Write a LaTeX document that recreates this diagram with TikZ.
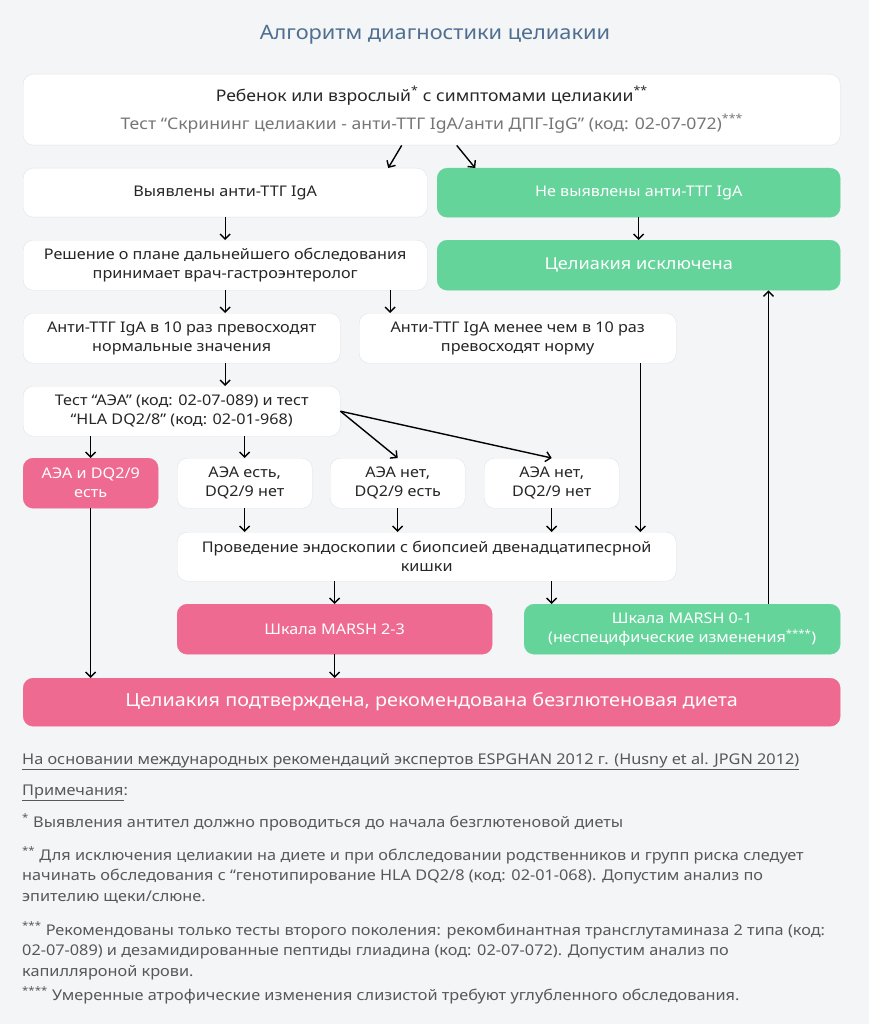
\documentclass[tikz,border=0pt]{standalone}
\usepackage{fontspec}
\setmainfont{Noto Sans}[FakeStretch=1.1]
\usetikzlibrary{arrows.meta}

\definecolor{bgcol}{HTML}{F4F5F7}
\definecolor{boxline}{HTML}{E1E3E7}
\definecolor{greenbox}{HTML}{64D49B}
\definecolor{pinkbox}{HTML}{EE6A90}
\definecolor{titlecol}{HTML}{4F6F90}
\definecolor{subtext}{HTML}{767676}
\definecolor{notetext}{HTML}{585858}

\begin{document}
\begin{tikzpicture}[
    x=1pt, y=-1pt,
    box/.style={
        rectangle,
        rounded corners=10pt,
        draw=boxline,
        fill=white,
        anchor=north west,
        inner sep=0pt,
        align=center,
        text=black!85,
        font=\fontsize{14.7}{19}\selectfont
    },
    okbox/.style={box, draw=greenbox, fill=greenbox, text=white},
    badbox/.style={box, draw=pinkbox, fill=pinkbox, text=white},
    arrow/.style={
        -{Straight Barb[length=5pt,width=10pt]},
        line width=1.4pt
    },
    note/.style={
        anchor=base west,
        inner sep=0pt,
        align=left,
        text=notetext,
        font=\fontsize{14.8}{20.5}\selectfont
    }
]

% fondo
\fill[bgcol] (0,0) rectangle (869,1024);

% titolo
\node[font=\fontsize{19.8}{24}\selectfont, text=titlecol] (title) at (435,35) {Алгоритм диагностики целиакии};

% inizio
\node[box, minimum width=817pt, minimum height=71pt, font=\fontsize{16}{20}\selectfont] (start) at (23,74)
    {Ребенок или взрослый\textsuperscript{*} с симптомами целиакии\textsuperscript{**}\\[8pt]
     {\color{subtext}Тест “Скрининг целиакии - анти-ТТГ IgA/анти ДПГ-IgG” (код: 02-07-072)\textsuperscript{***}}};

% primo livello
\node[box, minimum width=404pt, minimum height=49pt] (found) at (23,168) {Выявлены анти-ТТГ IgA};
\node[okbox, minimum width=403pt, minimum height=49pt] (notfound) at (437,168) {Не выявлены анти-ТТГ IgA};

\draw[arrow] ([xshift=-30pt]start.south) -- ([xshift=163pt]found.north);
\draw[arrow] ([xshift=25pt]start.south) -- ([xshift=-163.5pt]notfound.north);

% secondo livello
\node[box, minimum width=404pt, minimum height=50pt] (plan) at (23,240) {Решение о плане дальнейшего обследования\\принимает врач-гастроэнтеролог};
\node[okbox, minimum width=403pt, minimum height=50pt, font=\fontsize{16.5}{20}\selectfont] (excluded) at (437,240) {Целиакия исключена};

\draw[arrow] (found) -- (plan);
\draw[arrow] (notfound) -- (excluded);

% titoli anticorpi
\node[box, minimum width=317pt, minimum height=50pt] (high) at (23,313) {Анти-ТТГ IgA в 10 раз превосходят\\нормальные значения};
\node[box, minimum width=317pt, minimum height=50pt] (low) at (359,313) {Анти-ТТГ IgA менее чем в 10 раз\\превосходят норму};

\draw[arrow] (plan.south) -- (plan.south |- high.north);
\draw[arrow] ([xshift=165pt]plan.south) -- ([xshift=165pt]plan.south |- low.north);

% test AЭA / HLA
\node[box, minimum width=317pt, minimum height=50pt] (test) at (23,386) {Тест “АЭА” (код: 02-07-089) и тест\\“HLA DQ2/8” (код: 02-01-968)};

\draw[arrow] (high.south -| plan.south) -- (test.north -| plan.south);

% risultati
\node[badbox, minimum width=135pt, minimum height=50pt] (both) at (23,458) {АЭА и DQ2/9\\есть};
\node[box, minimum width=135pt, minimum height=50pt] (yesno) at (177,458) {АЭА есть,\\DQ2/9 нет};
\node[box, minimum width=135pt, minimum height=50pt] (noyes) at (330,458) {АЭА нет,\\DQ2/9 есть};
\node[box, minimum width=135pt, minimum height=50pt] (nono) at (484,458) {АЭА нет,\\DQ2/9 нет};

\draw[arrow] (test.south -| both.north) -- (both.north);
\draw[arrow] (test.south -| yesno.north) -- (yesno.north);
\draw[arrow] (test.east) -- (noyes.north);
\draw[arrow] (test.east) -- (nono.north);

% endoscopia
\node[box, minimum width=499pt, minimum height=49pt] (endo) at (177,532) {Проведение эндоскопии с биопсией двенадцатипесрной\\кишки};

\draw[arrow] (yesno) -- (yesno.south |- endo.north);
\draw[arrow] (noyes) -- (noyes.south |- endo.north);
\draw[arrow] (nono) -- (nono.south |- endo.north);
\draw[arrow] ([xshift=-36pt]low.south east) -- ([xshift=-36pt]endo.north east);

% scala MARSH
\node[badbox, minimum width=315pt, minimum height=50pt] (marshhi) at (177,604) {Шкала MARSH 2-3};
\node[okbox, minimum width=316pt, minimum height=50pt] (marshlo) at (524,604) {Шкала MARSH 0-1\\(неспецифические изменения\textsuperscript{****})};

\draw[arrow] (endo.south -| marshhi.north) -- (marshhi.north);
\draw[arrow] (endo.south -| nono.south) -- (marshlo.north -| nono.south);
\draw[arrow] ([xshift=-72pt]marshlo.north east) -- ([xshift=-72pt]excluded.south east);

% diagnosi
\node[badbox, minimum width=817pt, minimum height=48pt, font=\fontsize{18}{22}\selectfont] (confirmed) at (23,678) {Целиакия подтверждена, рекомендована безглютеновая диета};

\draw[arrow] (both) -- (both.south |- confirmed.north);
\draw[arrow] (marshhi) -- (marshhi.south |- confirmed.north);

% note (ancora sulla riga di base dell'ultima riga)
\node[note] (source) at (22,764) {\underline{На основании международных рекомендаций экспертов ESPGHAN 2012 г. (Husny et al. JPGN 2012)}};
\node[note] (notes) at (22,795) {\underline{Примечания}:};
\node[note] (note1) at (22,827) {\textsuperscript{*} Выявления антител должно проводиться до начала безглютеновой диеты};
\node[note] (note2) at (22,901) {\textsuperscript{**} Для исключения целиакии на диете и при облследовании родственников и групп риска следует\\начинать обследования с “генотипирование HLA DQ2/8 (код: 02-01-068). Допустим анализ по\\эпителию щеки/слюне.};
\node[note] (note3) at (22,976) {\textsuperscript{***} Рекомендованы только тесты второго поколения: рекомбинантная трансглутаминаза 2 типа (код:\\02-07-089) и дезамидированные пептиды глиадина (код: 02-07-072). Допустим анализ по\\капилляроной крови.};
\node[note] (note4) at (22,1000) {\textsuperscript{****} Умеренные атрофические изменения слизистой требуют углубленного обследования.};

\end{tikzpicture}
\end{document}
